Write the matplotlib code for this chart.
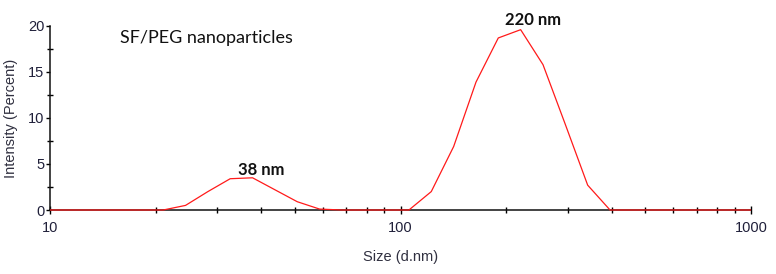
import matplotlib
matplotlib.use("Agg")
import matplotlib.pyplot as plt
from matplotlib.ticker import FixedLocator, NullFormatter
from matplotlib.transforms import Bbox, TransformedBbox

# size bins (d.nm) and intensity (%)
sizes = [8.721, 10.10, 11.70, 13.54, 15.69, 18.17, 21.04, 24.36, 28.21, 32.67,
         37.84, 43.82, 50.75, 58.77, 68.06, 78.82, 91.28, 105.7, 122.4, 141.8,
         164.2, 190.1, 220.2, 255.0, 295.3, 342.0, 396.1, 458.7, 531.2, 615.1,
         712.4, 825.0, 955.4, 1106.0]
intensity = [0, 0, 0, 0, 0, 0, 0, 0.5, 2.0, 3.4,
             3.5, 2.2, 0.9, 0.1, 0, 0, 0, 0, 2.0, 6.9,
             13.9, 18.7, 19.6, 15.8, 9.3, 2.7, 0, 0, 0, 0,
             0, 0, 0, 0]

peak_labels = ["38 nm", "220 nm"]
peak_sizes = [37.84, 220.2]
peak_values = [3.5, 19.6]

x_major = [10, 100, 1000]
x_minor = [20, 30, 40, 50, 60, 70, 80, 90, 200, 300, 400, 500, 600, 700, 800, 900]
y_major = [0, 5, 10, 15, 20]
y_minor = [2.5, 7.5, 12.5, 17.5]

plt.rcParams["font.family"] = ["Liberation Sans", "DejaVu Sans"]

fig = plt.figure(figsize=(7.76, 2.74), dpi=100)
ax = fig.add_axes([50 / 776, 1 - 210 / 274, 701 / 776, 184 / 274])

line, = ax.plot(sizes, intensity, color="#ff1a1a", lw=0.9, zorder=3)
# clip only left/right so the zero baseline stays visible over the axis
line.set_clip_box(TransformedBbox(Bbox([[0, -0.05], [1, 1.05]]), ax.transAxes))

ax.set_xscale("log")
ax.set_xlim(10, 1000)
ax.set_ylim(0, 20)

for s in ["top", "right"]:
    ax.spines[s].set_visible(False)
for s in ["left", "bottom"]:
    ax.spines[s].set_linewidth(1.1)
    ax.spines[s].set_color("#111111")

ax.xaxis.set_major_locator(FixedLocator(x_major))
ax.xaxis.set_minor_locator(FixedLocator(x_minor))
ax.xaxis.set_minor_formatter(NullFormatter())
ax.set_xticklabels([str(v) for v in x_major])
ax.yaxis.set_major_locator(FixedLocator(y_major))
ax.yaxis.set_minor_locator(FixedLocator(y_minor))

tick_col = "#20203a"
ax.tick_params(axis="x", which="major", direction="inout", length=6, width=1.0,
               pad=5, labelsize=10.5, labelcolor=tick_col)
ax.tick_params(axis="x", which="minor", direction="inout", length=4.5, width=1.0)
ax.tick_params(axis="y", which="major", direction="out", length=3, width=1.0,
               pad=1, labelsize=10.5, labelcolor=tick_col)
ax.tick_params(axis="y", which="minor", direction="inout", length=4.5, width=1.0)

ax.set_xlabel("Size (d.nm)", fontsize=10.5, color="#303040", labelpad=11)
ax.set_ylabel("Intensity (Percent)", fontsize=10.5, color="#303040", labelpad=7)

ax.text(0.1, 0.935, "SF/PEG nanoparticles", transform=ax.transAxes,
        fontsize=13, family=["Lato", "DejaVu Sans"], color="#111111",
        va="center", ha="left")

offsets = [(9, 3), (12, 5)]
for lab, xs, yv, off in zip(peak_labels, peak_sizes, peak_values, offsets):
    ax.annotate(lab, xy=(xs, yv), xytext=off, textcoords="offset pixels",
                ha="center", va="baseline", fontsize=12, fontweight="bold",
                family=["Lato", "DejaVu Sans"], color="#111111",
                annotation_clip=False)

fig.savefig("out.png", dpi=100)
